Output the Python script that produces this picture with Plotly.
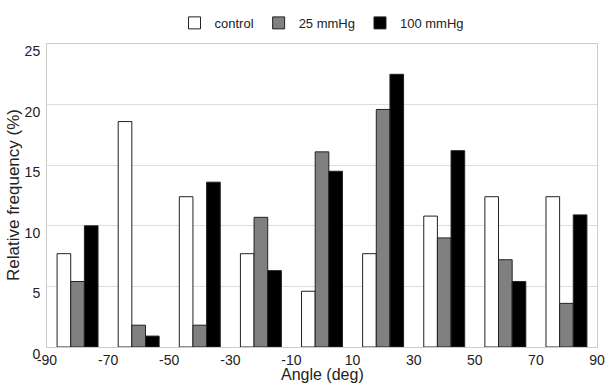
import plotly.graph_objects as go

angles = [-80, -60, -40, -20, 0, 20, 40, 60, 80]
control = [7.7, 18.6, 12.4, 7.7, 4.6, 7.7, 10.8, 12.4, 12.4]
mmhg25 = [5.4, 1.8, 1.8, 10.7, 16.1, 19.6, 9.0, 7.2, 3.6]
mmhg100 = [10.0, 0.9, 13.6, 6.3, 14.5, 22.5, 16.2, 5.4, 10.9]
x_ticks = [-90, -70, -50, -30, -10, 10, 30, 50, 70, 90]
y_ticks = [0, 5, 10, 15, 20, 25]

font = "Liberation Sans, Arial, Helvetica, sans-serif"

fig = go.Figure()
for name, vals, color in [("control", control, "white"),
                          ("25 mmHg", mmhg25, "#808080"),
                          ("100 mmHg", mmhg100, "black")]:
    fig.add_trace(go.Bar(x=angles, y=vals, name=name,
                         marker=dict(color=color, line=dict(color="#222222", width=1))))

fig.update_layout(
    width=607, height=383,
    margin=dict(l=47, r=10, t=44, b=36, autoexpand=False),
    paper_bgcolor="white", plot_bgcolor="white",
    barmode="group", bargap=0.33, bargroupgap=0,
    font=dict(family=font, color="#222222"),
    showlegend=True,
    legend=dict(orientation="h", x=0.5, xanchor="center", y=1.02, yanchor="bottom",
                font=dict(size=13), itemwidth=30, tracegroupgap=0,
                bgcolor="rgba(0,0,0,0)", traceorder="normal"),
    xaxis=dict(range=[-90, 90], tickmode="array", tickvals=x_ticks,
               ticktext=[str(t) for t in x_ticks], showgrid=False, automargin=False,
               showline=True, linecolor="#cccccc", mirror=True, ticks="",
               tickfont=dict(size=14), zeroline=False, ticklabelstandoff=0),
    yaxis=dict(range=[0, 25], tickmode="array", tickvals=y_ticks, automargin=False,
               showgrid=True, gridcolor="#dddddd", showline=True, linecolor="#cccccc",
               mirror=True, ticks="", tickfont=dict(size=14), zeroline=False,
               ticklabelshift=7, ticklabelstandoff=3),
    annotations=[
        dict(text="Angle (deg)", xref="paper", yref="paper", x=0.5, y=0,
             xanchor="center", yanchor="top", yshift=-17, showarrow=False,
             font=dict(size=16, family=font, color="#222222")),
        dict(text="Relative frequency (%)", xref="paper", yref="paper", x=0, y=0.5,
             xanchor="right", yanchor="middle", xshift=-22, textangle=-90,
             showarrow=False, font=dict(size=17, family=font, color="#222222")),
    ],
)
fig.write_html("out.html", config={"displayModeBar": False},
               post_script="document.body.style.margin='0';document.body.style.overflow='hidden';")
